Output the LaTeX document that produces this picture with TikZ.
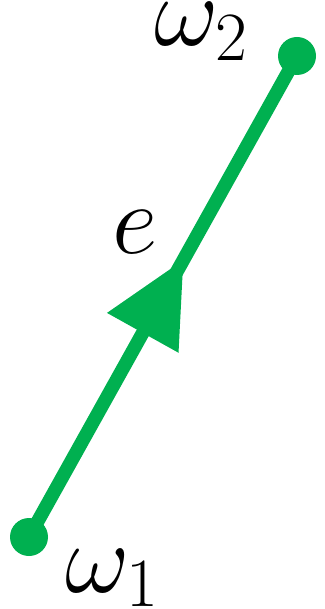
\documentclass[tikz,border=0pt]{standalone}
\usepackage{amsmath,amssymb}
\usepackage{tikz}
\usepackage{xcolor}
\usetikzlibrary{arrows.meta,decorations.markings}
\definecolor{edgegreen}{HTML}{00B050}
\tikzset{
  vertexdot/.style={circle,fill=edgegreen,inner sep=0pt,minimum size=9.5pt},
  edgeline/.style={draw=edgegreen,line width=3.4pt,
                   postaction={decorate,decoration={markings,
                     mark=at position 0.577 with {\arrow[edgegreen]{Triangle[length=21pt,width=19.5pt]}}}}},
  mathlabel/.style={anchor=base west,inner sep=0pt,font=\fontsize{26.5}{30}\selectfont}
}

\begin{document}
\begin{tikzpicture}[x=0.25pt,y=-0.25pt]
      \useasboundingbox (0,0) rectangle (324,609);
      \node[vertexdot] (w1) at (29,537) {};
      \node[vertexdot] (w2) at (297,56) {};
      \draw[edgeline] (w1.center) -- (w2.center);
      \node[mathlabel] (w2lab) at (154,46) {$\omega_2$};
      \node[mathlabel] (w1lab) at (65,592) {$\omega_1$};
      \node[mathlabel] (elab) at (112,253) {$e$};
    \end{tikzpicture}
\end{document}
